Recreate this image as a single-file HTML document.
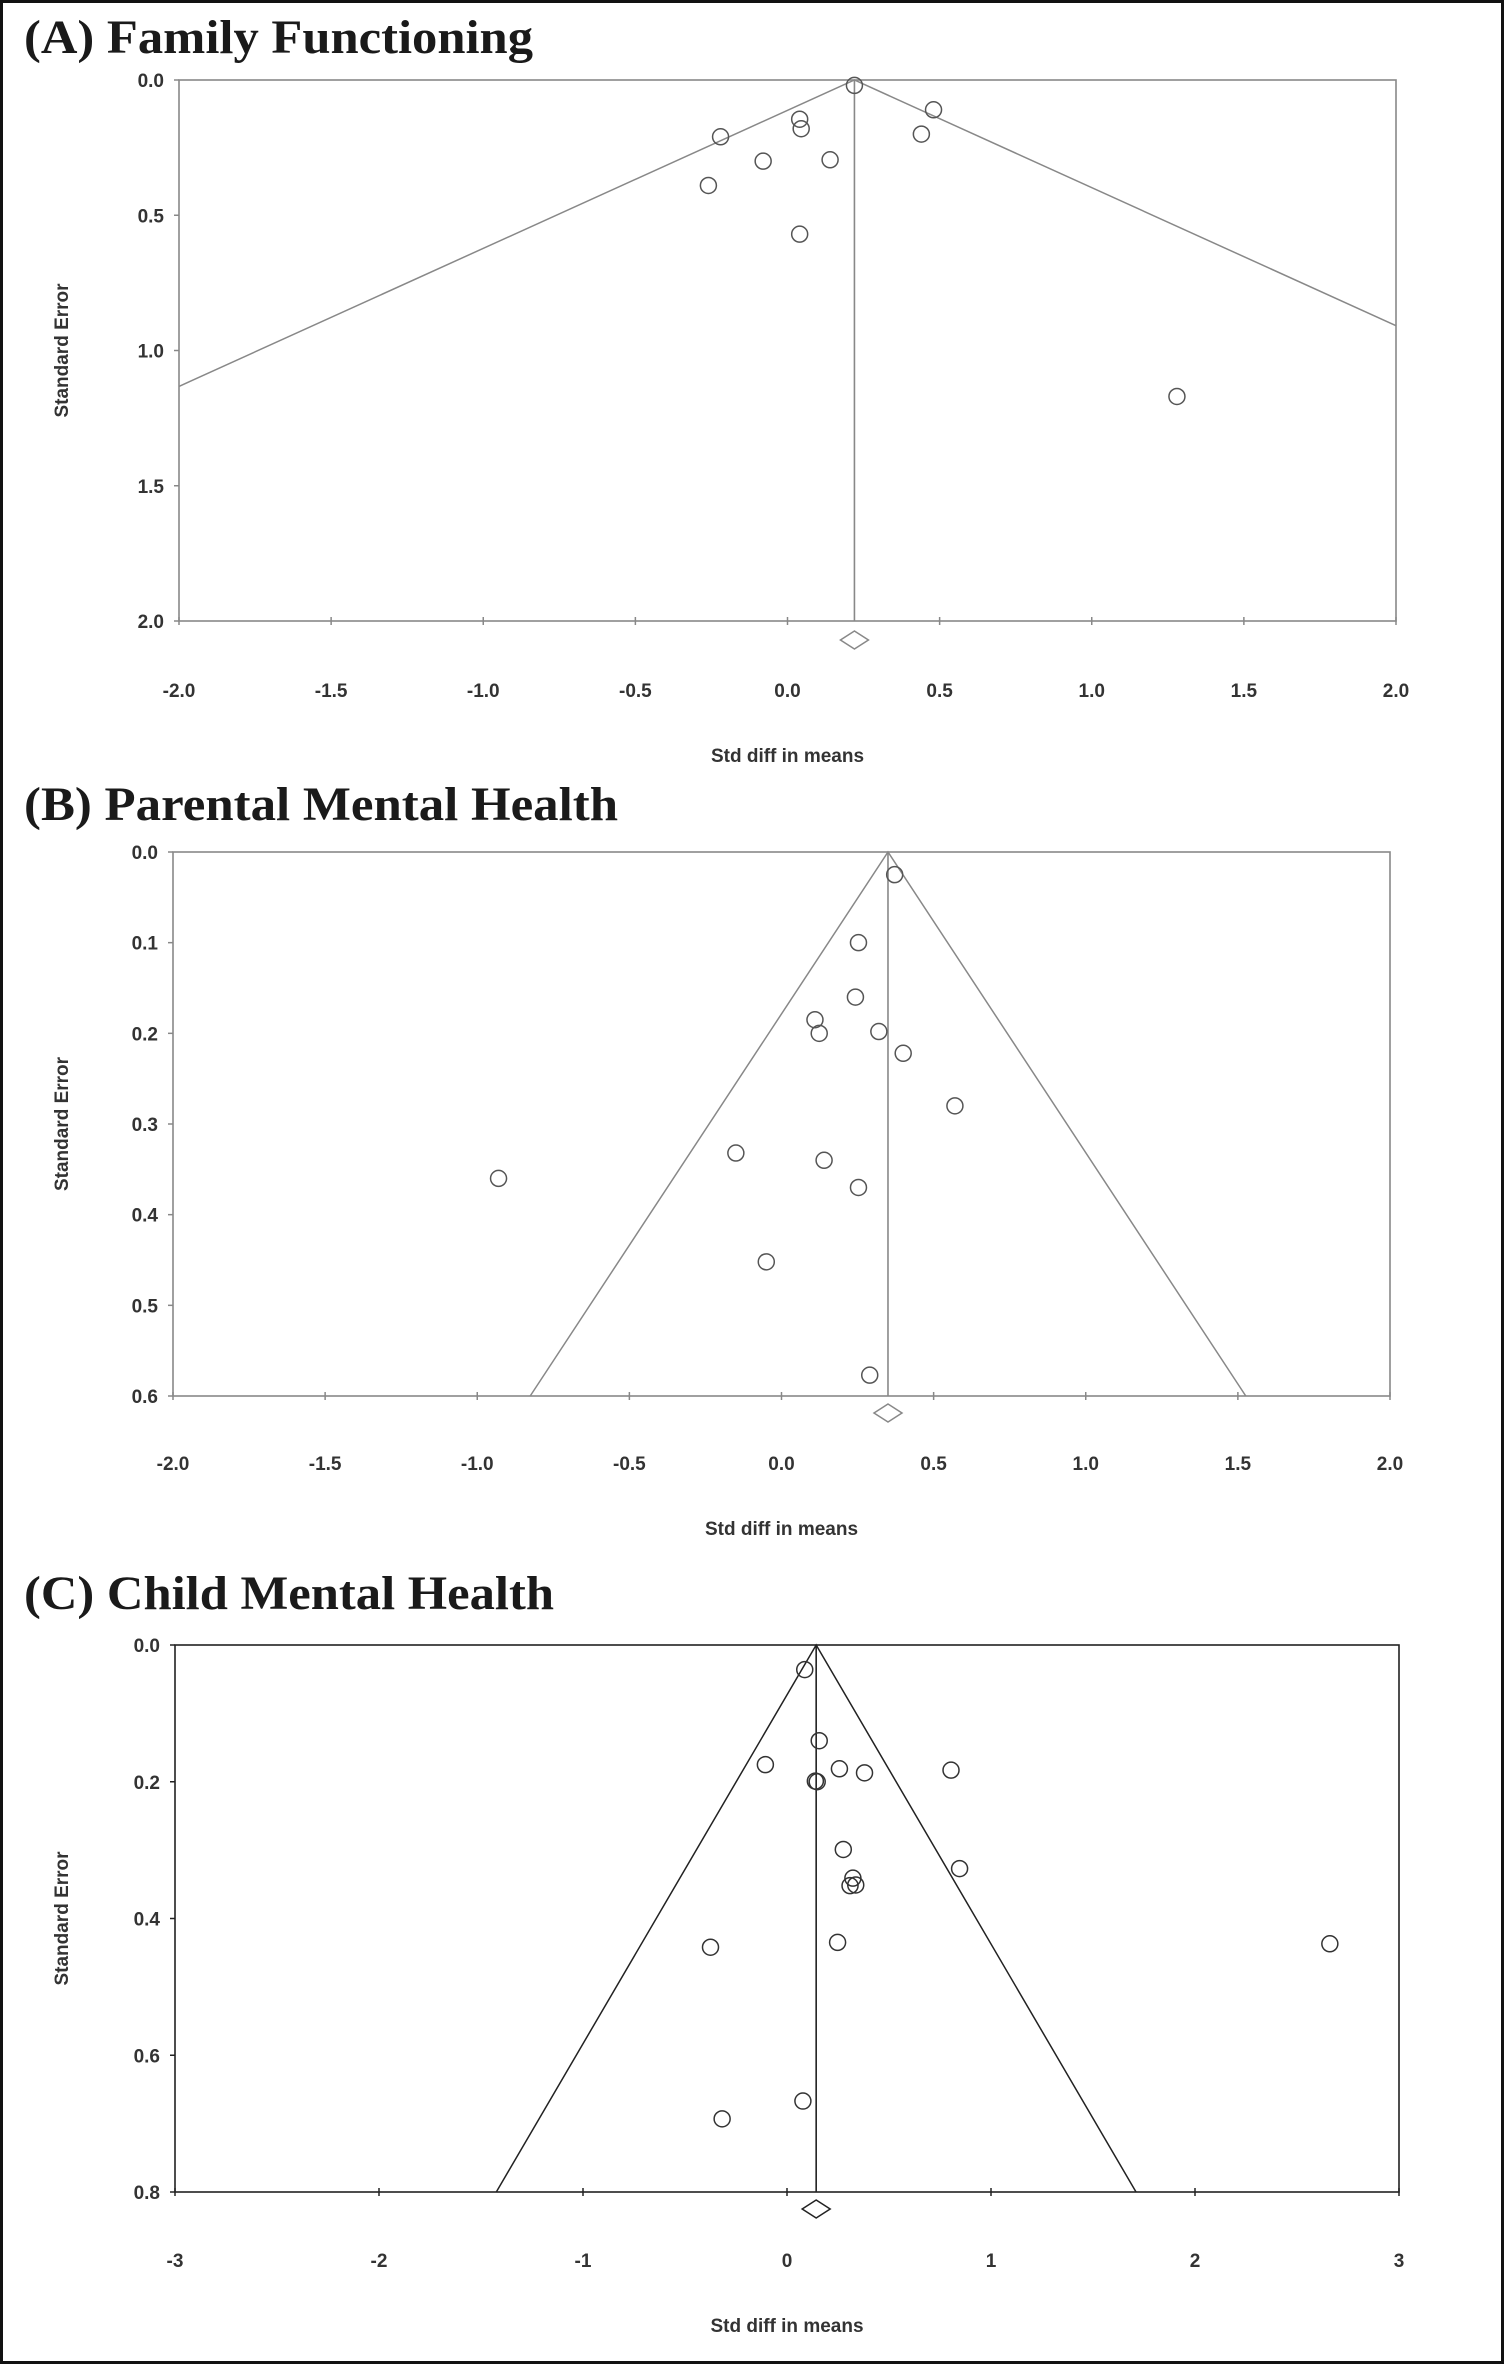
<!DOCTYPE html>
<html><head><meta charset="utf-8"><style>
html,body{margin:0;padding:0;background:#fff;}
svg{display:block;}
.t{font-family:"Liberation Sans",Arial,sans-serif;font-weight:bold;fill:#333;font-size:19px;}
.h{font-family:"Liberation Serif","Times New Roman",serif;font-weight:bold;fill:#1a1a1a;font-size:48px;}
</style></head><body>
<svg id="fig" width="1504" height="2364" viewBox="0 0 1504 2364" xmlns="http://www.w3.org/2000/svg">
<rect x="1.5" y="1.5" width="1501" height="2361" fill="#fff" stroke="#111" stroke-width="3"/>
</svg>
<script>
// Panel A: Family Functioning
const aEffects = [0.22, 0.04, 0.045, 0.48, 0.44, -0.22, -0.08, 0.14, -0.26, 0.04, 1.28];
const aSE      = [0.02, 0.145, 0.18, 0.11, 0.20, 0.21, 0.30, 0.295, 0.39, 0.57, 1.17];
const aMean = 0.22;
const aXTicks = ["-2.0","-1.5","-1.0","-0.5","0.0","0.5","1.0","1.5","2.0"];
const aYTicks = ["0.0","0.5","1.0","1.5","2.0"];
// Panel B: Parental Mental Health
const bEffects = [0.372, 0.253, 0.243, 0.11, 0.124, 0.32, 0.40, 0.57, -0.15, 0.14, 0.253, -0.93, -0.05, 0.29];
const bSE      = [0.025, 0.10, 0.16, 0.185, 0.20, 0.198, 0.222, 0.28, 0.332, 0.34, 0.37, 0.36, 0.452, 0.577];
const bMean = 0.35;
const bXTicks = ["-2.0","-1.5","-1.0","-0.5","0.0","0.5","1.0","1.5","2.0"];
const bYTicks = ["0.0","0.1","0.2","0.3","0.4","0.5","0.6"];
// Panel C: Child Mental Health
const cEffects = [0.087, 0.158, -0.106, 0.139, 0.148, 0.257, 0.380, 0.804, 0.276, 0.846, 0.323, 0.309, 0.337, -0.375, 0.248, 2.661, 0.078, -0.318];
const cSE      = [0.036, 0.140, 0.175, 0.199, 0.200, 0.181, 0.187, 0.183, 0.299, 0.327, 0.341, 0.352, 0.351, 0.442, 0.435, 0.437, 0.667, 0.693];
const cMean = 0.143;
const cXTicks = ["-3","-2","-1","0","1","2","3"];
const cYTicks = ["0.0","0.2","0.4","0.6","0.8"];

const NS = "http://www.w3.org/2000/svg";
const svg = document.getElementById('fig');
function mk(tag, attrs, parent){
  const e = document.createElementNS(NS, tag);
  for (const k in attrs) e.setAttribute(k, attrs[k]);
  (parent||svg).appendChild(e);
  return e;
}
function panel(cfg){
  const g = mk('g', {});
  
  
  const {L,R,T,B,xmin,xmax,ymax,col} = cfg;
  const sx = v => L + (v - xmin) / (xmax - xmin) * (R - L);
  const sy = v => T + v / ymax * (B - T);
  const title = mk('text', {x:24, y:cfg.titleY, class:'h', textLength:cfg.titleW, lengthAdjust:'spacingAndGlyphs'}, g);
  title.textContent = cfg.title;
  
  
  const frame = mk('rect', {x:L, y:T, width:R-L, height:B-T, fill:'none', stroke:col, 'stroke-width':1.6}, g);
  
  
  const m = cfg.mean;
  function edge(sign){
    let se = ymax, x = m + sign*1.96*se;
    if (x < xmin || x > xmax){ const xb = sign < 0 ? xmin : xmax; se = (xb - m)/(sign*1.96); x = xb; }
    return [sx(x), sy(se)];
  }
  const le = edge(-1), re = edge(1);
  const fun = mk('polyline', {points:`${le[0]},${le[1]} ${sx(m)},${sy(0)} ${re[0]},${re[1]}`, fill:'none', stroke:col, 'stroke-width':1.5}, g);
  
  
  const ml = mk('line', {x1:sx(m), y1:sy(0), x2:sx(m), y2:B, stroke:col, 'stroke-width':1.6}, g);
  
  
  cfg.xTicks.forEach((lab, i) => {
    const v = parseFloat(lab), x = sx(v);
    const tk = mk('line', {x1:x, y1:B-4, x2:x, y2:B+4, stroke:col, 'stroke-width':1.5}, g);
    
    
    const t = mk('text', {x:x, y:cfg.xLabY, class:'t', 'text-anchor':'middle'}, g);
    t.textContent = lab;
    
    
  });
  cfg.yTicks.forEach(lab => {
    const v = parseFloat(lab), y = sy(v);
    const tk = mk('line', {x1:L-5, y1:y, x2:L, y2:y, stroke:col, 'stroke-width':1.5}, g);
    
    
    const t = mk('text', {x:L-15, y:y+7, class:'t', 'text-anchor':'end'}, g);
    t.textContent = lab;
    
    
  });
  const yt = mk('text', {x:0, y:0, class:'t', 'text-anchor':'middle', transform:`translate(68,${(T+B)/2}) rotate(-90)`}, g);
  yt.textContent = 'Standard Error';
  
  
  const xt = mk('text', {x:(L+R)/2, y:cfg.xTitleY, class:'t', 'text-anchor':'middle'}, g);
  xt.textContent = 'Std diff in means';
  
  
  cfg.eff.forEach((e, i) => {
    const c = mk('circle', {cx:sx(e), cy:sy(cfg.se[i]), r:8, fill:'none', stroke:cfg.ptCol, 'stroke-width':1.5}, g);
    
    
  });
  const dx = sx(m), dy = cfg.diaY;
  const d = mk('polygon', {points:`${dx-14},${dy} ${dx},${dy-9} ${dx+14},${dy} ${dx},${dy+9}`, fill:'#fff', stroke:col, 'stroke-width':1.5}, g);
  
  
}
panel({id:'family-functioning', title:'(A) Family Functioning', titleY:53, titleW:509,
  L:179, R:1396, T:80, B:621, xmin:-2, xmax:2, ymax:2, col:'#888', ptCol:'#555',
  mean:aMean, eff:aEffects, se:aSE, xTicks:aXTicks, yTicks:aYTicks, xLabY:697, xTitleY:762, diaY:640});
panel({id:'parental-mental-health', title:'(B) Parental Mental Health', titleY:820, titleW:594,
  L:173, R:1390, T:852, B:1396, xmin:-2, xmax:2, ymax:0.6, col:'#888', ptCol:'#555',
  mean:bMean, eff:bEffects, se:bSE, xTicks:bXTicks, yTicks:bYTicks, xLabY:1470, xTitleY:1535, diaY:1413});
panel({id:'child-mental-health', title:'(C) Child Mental Health', titleY:1609, titleW:530,
  L:175, R:1399, T:1645, B:2192, xmin:-3, xmax:3, ymax:0.8, col:'#222', ptCol:'#333',
  mean:cMean, eff:cEffects, se:cSE, xTicks:cXTicks, yTicks:cYTicks, xLabY:2267, xTitleY:2332, diaY:2209});
</script>
</body></html>
